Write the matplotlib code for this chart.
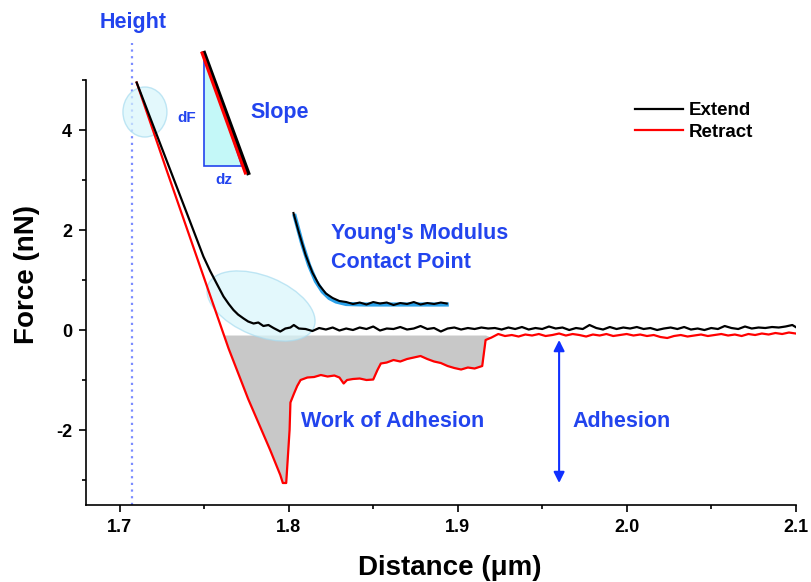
import numpy as np
import matplotlib.pyplot as plt
import matplotlib.transforms as mtransforms
from matplotlib.patches import Ellipse, Polygon

plt.rcParams['font.family'] = ['Liberation Sans', 'DejaVu Sans']
plt.rcParams['font.weight'] = 'bold'
plt.rcParams['axes.unicode_minus'] = False

# extend curve (approach), distance in um, force in nN
extend_x = [1.710, 1.720, 1.730, 1.740, 1.7495, 1.7535, 1.7575, 1.7614, 1.7645, 1.7673,
            1.770, 1.7733, 1.776, 1.7792, 1.782, 1.785, 1.788, 1.791, 1.795, 1.798,
            1.801, 1.803, 1.806, 1.810, 1.814, 1.818, 1.822, 1.826,
            1.830, 1.834, 1.838, 1.842, 1.846, 1.850, 1.854, 1.858, 1.862, 1.866,
            1.870, 1.874, 1.878, 1.882, 1.886, 1.890, 1.894, 1.898, 1.902, 1.906,
            1.910, 1.914, 1.918, 1.922, 1.926, 1.930, 1.934, 1.938, 1.942, 1.946,
            1.950, 1.954, 1.958, 1.962, 1.966, 1.970, 1.974, 1.978, 1.982, 1.986,
            1.990, 1.994, 1.998, 2.002, 2.006, 2.010, 2.014, 2.018, 2.022, 2.026,
            2.030, 2.034, 2.038, 2.042, 2.046, 2.050, 2.054, 2.058, 2.062, 2.066,
            2.070, 2.074, 2.078, 2.082, 2.086, 2.090, 2.094, 2.098, 2.100]
extend_f = [4.95, 4.07, 3.19, 2.31, 1.47, 1.18, 0.92, 0.67, 0.52, 0.40,
            0.31, 0.23, 0.17, 0.13, 0.15, 0.08, 0.10, 0.04, -0.03, 0.03,
            0.05, 0.10, 0.03, 0.02, -0.02, 0.04, 0.01, 0.05,
            -0.01, 0.03, 0.00, 0.05, 0.02, 0.07, -0.01, 0.03, 0.02, 0.06,
            0.01, 0.03, 0.08, 0.02, 0.04, -0.03, 0.03, 0.05, 0.01, 0.04,
            0.02, 0.05, 0.03, 0.04, 0.01, 0.05, 0.02, 0.06, 0.01, 0.04,
            0.02, 0.07, 0.03, 0.05, 0.00, 0.04, 0.02, 0.10, 0.04, 0.01,
            0.06, 0.02, 0.05, 0.03, 0.06, 0.02, 0.04, 0.00, 0.03, 0.05,
            0.02, 0.06, 0.01, 0.03, 0.00, 0.04, 0.02, 0.08, 0.04, 0.02,
            0.07, 0.03, 0.05, 0.04, 0.06, 0.05, 0.07, 0.10, 0.06]

# retract curve
retract_x = [1.710, 1.7277, 1.7644, 1.776, 1.789, 1.795,
             1.7965, 1.7985, 1.8005, 1.801, 1.803, 1.805, 1.807, 1.811, 1.815, 1.819,
             1.823, 1.827, 1.830, 1.8325, 1.8345, 1.838, 1.842, 1.846, 1.850, 1.8525,
             1.8545, 1.858, 1.862, 1.866, 1.870, 1.874, 1.878, 1.882, 1.886, 1.890,
             1.894, 1.898, 1.902, 1.906, 1.910, 1.9145, 1.9165, 1.920, 1.924, 1.928,
             1.932, 1.936, 1.940, 1.944, 1.948, 1.952, 1.956, 1.960, 1.964, 1.968,
             1.972, 1.976, 1.980, 1.984, 1.988, 1.992, 1.996, 2.000, 2.004, 2.008,
             2.012, 2.016, 2.020, 2.024, 2.028, 2.032, 2.036, 2.040, 2.044, 2.048,
             2.052, 2.056, 2.060, 2.064, 2.068, 2.072, 2.076, 2.080, 2.084, 2.088,
             2.092, 2.096, 2.100]
retract_f = [4.95, 3.20, -0.37, -1.38, -2.40, -2.90,
             -3.06, -3.06, -2.00, -1.45, -1.28, -1.12, -1.00, -0.95, -0.94, -0.90,
             -0.93, -0.91, -0.95, -1.07, -1.00, -0.98, -0.97, -1.00, -0.99, -0.80,
             -0.67, -0.65, -0.60, -0.63, -0.58, -0.55, -0.52, -0.58, -0.63, -0.66,
             -0.72, -0.76, -0.79, -0.75, -0.77, -0.72, -0.20, -0.15, -0.08, -0.12,
             -0.10, -0.13, -0.09, -0.11, -0.08, -0.12, -0.10, -0.07, -0.11, -0.08,
             -0.10, -0.13, -0.09, -0.11, -0.08, -0.12, -0.10, -0.08, -0.11, -0.09,
             -0.12, -0.10, -0.14, -0.16, -0.12, -0.10, -0.13, -0.11, -0.09, -0.12,
             -0.10, -0.08, -0.11, -0.09, -0.12, -0.08, -0.10, -0.07, -0.09, -0.06,
             -0.08, -0.05, -0.07]
baseline_f = -0.10

# inset: contact point region with model fit
inset_x = [1.8028, 1.806, 1.810, 1.814, 1.818, 1.822, 1.826, 1.830, 1.834, 1.838,
           1.842, 1.846, 1.850, 1.854, 1.858, 1.862, 1.866, 1.870, 1.874, 1.878,
           1.882, 1.886, 1.890, 1.8935]
inset_f = [2.34, 1.95, 1.50, 1.15, 0.90, 0.73, 0.64, 0.58, 0.56, 0.52,
           0.55, 0.51, 0.56, 0.53, 0.55, 0.50, 0.54, 0.52, 0.56, 0.51,
           0.54, 0.52, 0.55, 0.53]
fit_x = [1.8035, 1.808, 1.812, 1.816, 1.820, 1.824, 1.828, 1.834, 1.845, 1.860, 1.875, 1.8935]
fit_f = [2.28, 1.72, 1.30, 0.98, 0.77, 0.64, 0.57, 0.52, 0.51, 0.51, 0.51, 0.51]

# inset: slope
slope_ext_x = [1.7499, 1.7760]
slope_ext_f = [5.54, 3.14]
slope_ret_x = [1.7487, 1.7743]
slope_ret_f = [5.54, 3.14]
tri_x = [1.7499, 1.7499, 1.7725]
tri_f = [5.54, 3.28, 3.28]

height_x = 1.707
adhesion_x = 1.96
adhesion_f = [-0.20, -3.06]

blue = '#2244ee'

fig = plt.figure(figsize=(8.11, 5.82), dpi=100)
ax = fig.add_axes([0.106, 0.1323, 0.8751, 0.7302])

x_r = np.array(retract_x)
f_r = np.array(retract_f)
ax.fill_between(x_r, f_r, baseline_f, where=(x_r >= 1.75) & (x_r <= 1.9165) & (f_r <= baseline_f),
                interpolate=True, color='#c8c8c8', lw=0, zorder=1)

# highlight ellipses (sizes in inches, centred in data coords)
e1 = Ellipse((0, 0), 0.44, 0.50, transform=fig.dpi_scale_trans +
             mtransforms.ScaledTranslation(1.7149, 4.36, ax.transData),
             facecolor='#d8f6fb', edgecolor='#a8dcf0', alpha=0.7, lw=1, zorder=2)
e2 = Ellipse((0, 0), 1.14, 0.60, angle=-22, transform=fig.dpi_scale_trans +
             mtransforms.ScaledTranslation(1.7836, 0.48, ax.transData),
             facecolor='#d8f6fb', edgecolor='#a8dcf0', alpha=0.7, lw=1, zorder=2)
ax.add_patch(e1)
ax.add_patch(e2)

ax.plot(retract_x, retract_f, color='red', lw=1.6, zorder=3, label='Retract')
ax.plot(extend_x, extend_f, color='black', lw=1.6, zorder=4, label='Extend')

ax.plot(fit_x, fit_f, color='#2aa0e8', lw=3, zorder=4)
ax.plot(inset_x, inset_f, color='black', lw=1.5, zorder=5)

ax.add_patch(Polygon(list(zip(tri_x, tri_f)), closed=True, facecolor='#c4f8f8',
                     edgecolor=blue, lw=1.2, clip_on=False, zorder=3))
ax.plot(slope_ext_x, slope_ext_f, color='black', lw=3, clip_on=False, zorder=4)
ax.plot(slope_ret_x, slope_ret_f, color='red', lw=2.2, clip_on=False, zorder=5)

ax.axvline(height_x, ymin=0, ymax=1.088, color='#7b8cff', lw=1.6,
           linestyle=(0, (1, 2)), clip_on=False, zorder=1)

ax.annotate('', xy=(adhesion_x, adhesion_f[1]), xytext=(adhesion_x, adhesion_f[0]),
            arrowprops=dict(arrowstyle='<|-|>', color='#1030ff', lw=1.5, mutation_scale=16,
                            shrinkA=0, shrinkB=0), zorder=6)

tkw = dict(color=blue, fontsize=15.5, fontweight='bold')
ax.text(1.7077, 6.16, 'Height', ha='center', va='center', clip_on=False, **tkw)
ax.text(1.7945, 4.36, 'Slope', ha='center', va='center', **tkw)
ax.text(1.7398, 4.24, 'dF', ha='center', va='center', color=blue, fontsize=11, fontweight='bold')
ax.text(1.7618, 3.0, 'dz', ha='center', va='center', color=blue, fontsize=11, fontweight='bold')
ax.text(1.8248, 1.94, "Young's Modulus", ha='left', va='center', **tkw)
ax.text(1.8248, 1.36, 'Contact Point', ha='left', va='center', **tkw)
ax.text(1.807, -1.82, 'Work of Adhesion', ha='left', va='center', **tkw)
ax.text(1.968, -1.82, 'Adhesion', ha='left', va='center', **tkw)

ax.set_xlim(1.68, 2.1)
ax.set_ylim(-3.5, 5)
ax.set_xticks([1.7, 1.8, 1.9, 2.0, 2.1])
ax.set_xticklabels(['1.7', '1.8', '1.9', '2.0', '2.1'])
ax.set_xticks([1.75, 1.85, 1.95, 2.05], minor=True)
ax.set_yticks([-2, 0, 2, 4])
ax.set_yticklabels(['-2', '0', '2', '4'])
ax.set_yticks([-3, -1, 1, 3, 5], minor=True)
ax.tick_params(which='major', length=5, width=1.2, labelsize=13, pad=5)
ax.tick_params(which='minor', length=3, width=1.2)
for lab in ax.get_xticklabels() + ax.get_yticklabels():
    lab.set_fontweight('bold')
for s in ['top', 'right']:
    ax.spines[s].set_visible(False)
for s in ['left', 'bottom']:
    ax.spines[s].set_linewidth(1.2)

ax.set_xlabel('Distance (μm)', fontsize=20, fontweight='bold')
ax.set_ylabel('Force (nN)', fontsize=20, fontweight='bold')
ax.xaxis.set_label_coords(0.5125, -0.148)
ax.yaxis.set_label_coords(-0.083, 0.5435)
ax.xaxis.label.set_va('center')
ax.yaxis.label.set_va('center')

ax.legend(handles=ax.get_lines()[1::-1], labels=['Extend', 'Retract'],
          loc='upper left', bbox_to_anchor=(0.7735, 0.948), frameon=False,
          borderpad=0, borderaxespad=0, handlelength=2.56, handletextpad=0.32,
          labelspacing=0.23, fontsize=13.5)

fig.savefig('out.png', dpi=100)
